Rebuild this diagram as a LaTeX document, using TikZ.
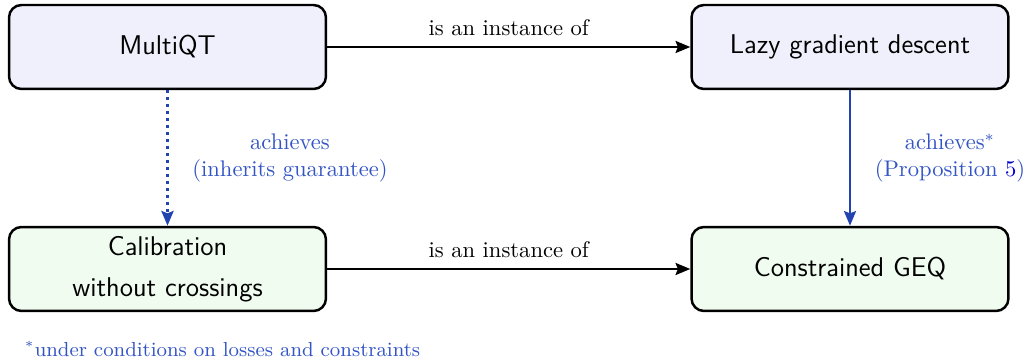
\documentclass[tikz,border=0pt]{standalone}
\usetikzlibrary{arrows.meta}
\definecolor{topfill}{HTML}{F0F0FC}
\definecolor{botfill}{HTML}{F0FCF0}
\definecolor{arrblue}{HTML}{2244B0}
\definecolor{lblblue}{HTML}{3355C4}
\begin{document}
\begin{tikzpicture}[x=0.443pt,y=-0.443pt,
  box/.style={draw=black,line width=1.1pt,rounded corners=5.5pt,minimum width=140.4pt,minimum height=37.2pt,align=center,font=\sffamily\large,inner sep=0pt},
  topbox/.style={box,fill=topfill},
  botbox/.style={box,fill=botfill},
  inst/.style={-{Stealth[length=6.5pt,width=5.3pt,inset=1pt]},line width=1.1pt},
  ach/.style={-{Stealth[length=6.5pt,width=5.3pt,inset=1pt]},line width=1.1pt,draw=arrblue},
  lbl/.style={text=lblblue,align=center,font=\normalsize},
  ]
\useasboundingbox (0,0) rectangle (1028,360);
\node[topbox] (mq) at (167.5,47) {MultiQT};
\node[topbox] (lgd) at (850,47) {Lazy gradient descent};
\node[botbox] (cal) at (167.5,269) {Calibration\\[4pt]without crossings};
\node[botbox] (geq) at (850,269) {Constrained GEQ};
\draw[inst] (mq) -- node[above,font=\normalsize,yshift=1pt] (l1) {is an instance of} (lgd);
\draw[inst] (cal) -- node[above,font=\normalsize,yshift=1pt] (l2) {is an instance of} (geq);
\draw[ach,dotted,line width=1.4pt] (mq) -- (cal);
\draw[ach] (lgd) -- (geq);
\node[lbl] (a1) at (290,158) {achieves\\(inherits guarantee)};
\node[lbl] (a2) at (950,158) {achieves$^*$\\(Proposition \textcolor{blue!80!black}{5})};
\node[text=lblblue,anchor=west,font=\small] (fn) at (17,349) {$^*$under conditions on losses and constraints};
\end{tikzpicture}
\end{document}
